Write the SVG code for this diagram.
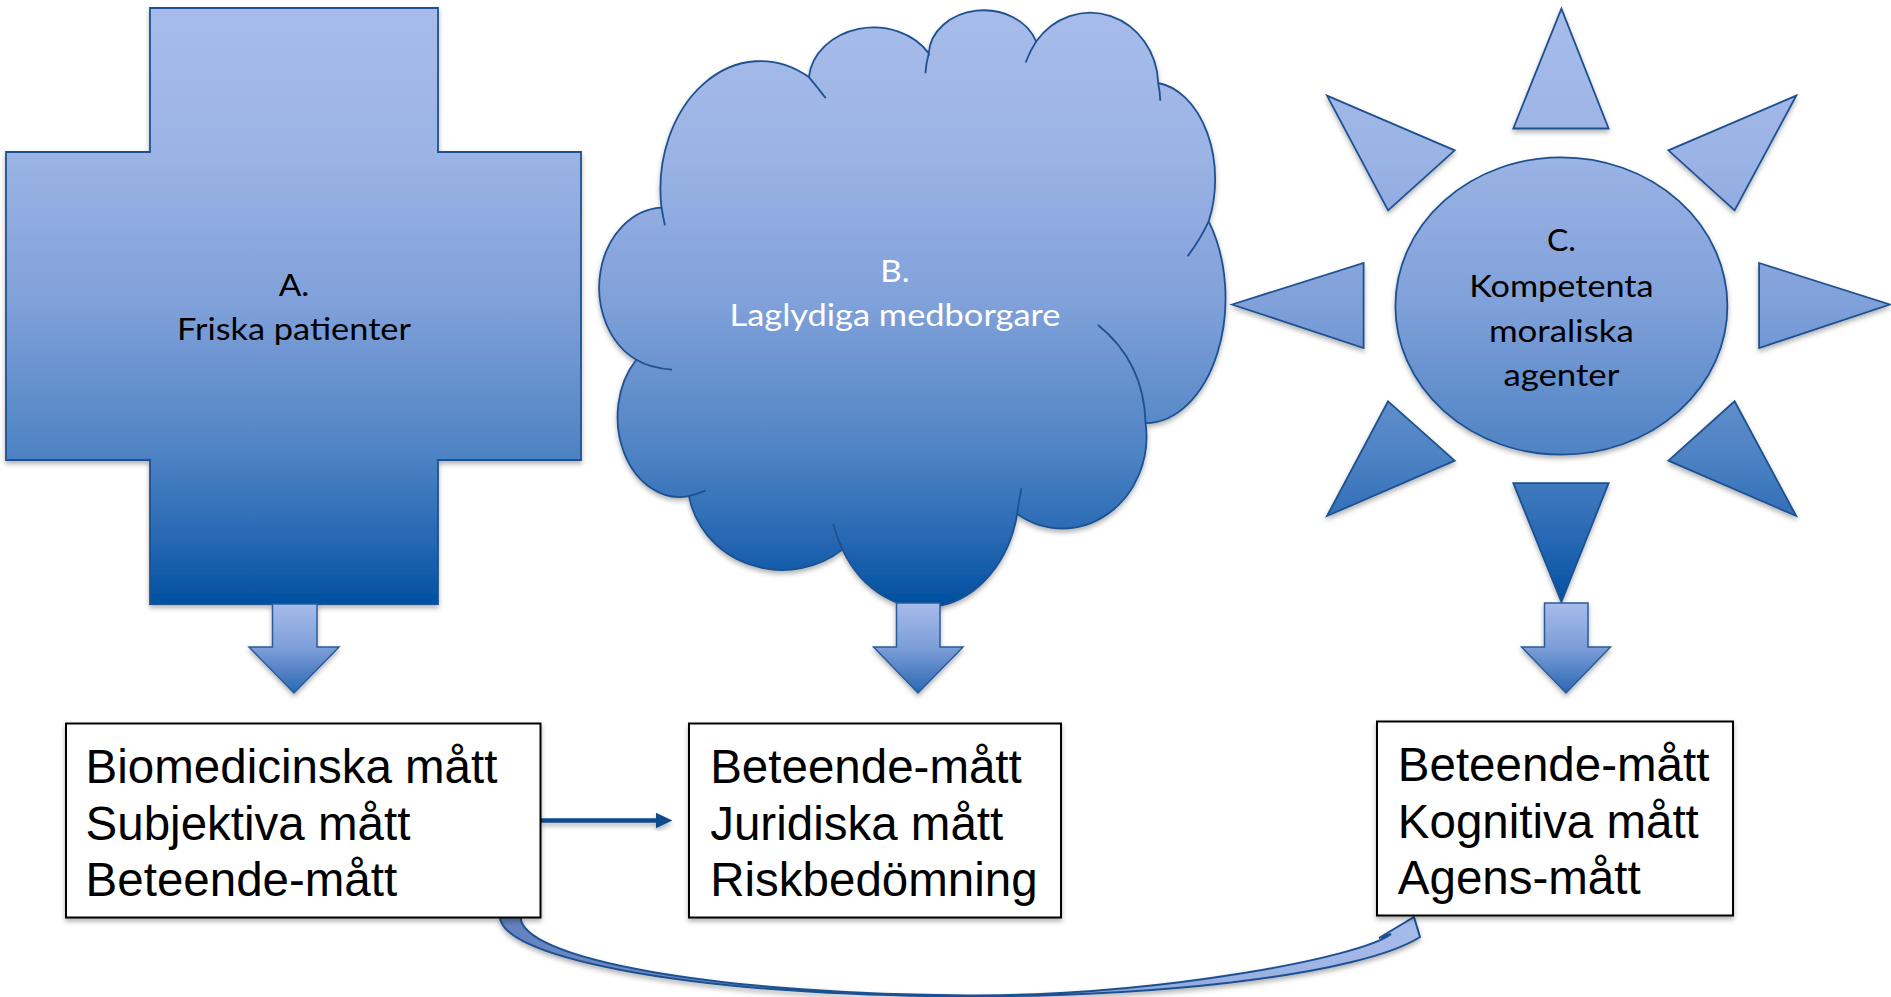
<svg xmlns="http://www.w3.org/2000/svg" width="1891" height="997" viewBox="0 0 1891 997">
<defs>
<linearGradient id="g" gradientUnits="userSpaceOnUse" x1="0" y1="8" x2="0" y2="604">
<stop offset="0" stop-color="#A7BCEA"/>
<stop offset="0.25" stop-color="#9BB3E5"/>
<stop offset="0.5" stop-color="#7FA0D9"/>
<stop offset="0.75" stop-color="#4E83C4"/>
<stop offset="0.9" stop-color="#2466B2"/>
<stop offset="1" stop-color="#0050A0"/>
</linearGradient>
<linearGradient id="ga" x1="0" y1="0" x2="0" y2="1">
<stop offset="0" stop-color="#A7BCEA"/>
<stop offset="0.5" stop-color="#7C9ED8"/>
<stop offset="1" stop-color="#2B67B3"/>
</linearGradient>
<linearGradient id="gc" gradientUnits="userSpaceOnUse" x1="500" y1="0" x2="1420" y2="0">
<stop offset="0" stop-color="#6482BF"/>
<stop offset="1" stop-color="#A6BBEA"/>
</linearGradient>
<filter id="sh" x="-10%" y="-10%" width="120%" height="125%">
<feDropShadow dx="0" dy="3" stdDeviation="2.5" flood-color="#000" flood-opacity="0.3"/>
</filter>
<style>
.shape{fill:url(#g);stroke:#1F5191;stroke-width:1.8;filter:url(#sh)}
.inner{fill:none;stroke:#1F5191;stroke-width:1.8}
.blk{fill:url(#ga);stroke:#2A5C9A;stroke-width:1.5;filter:url(#sh)}
.box{fill:#fff;stroke:#000;stroke-width:2;filter:url(#sh)}
.lbl{font-family:Lato,"Open Sans",sans-serif;font-size:31px;text-anchor:middle}
.bt{font-family:"Liberation Sans",Arial,sans-serif;font-size:47.5px;fill:#000}
</style>
</defs>

<g id="connectors">
<path d="M541,818.3 H656 V812.8 L672.3,820.5 L656,828.2 V822.7 H541 Z" fill="#0F4C8C" filter="url(#sh)"/>
<path d="M500,917 A468,80 0 0 0 1420,937 L1414,917 L1379,938 L1391,934 C1362,957 1160,996 968,995.5 A461,78.5 0 0 1 520.7,917 Z" fill="url(#gc)" stroke="#1F5191" stroke-width="2" filter="url(#sh)"/>
</g>

<g id="nodeA">
<path class="shape" d="M150,8 H438 V152 H581 V460 H438 V604 H150 V460 H6 V152 H150 Z"/>
<text class="lbl" fill="#000"><tspan x="294" y="296" textLength="30.6" lengthAdjust="spacingAndGlyphs">A.</tspan><tspan x="294" y="340" textLength="234" lengthAdjust="spacingAndGlyphs">Friska patienter</tspan></text>
</g>

<g id="nodeB">
<path class="shape" d="M661.5,207.6 A100,128 0 0 1 808.9,77.1 A65,55 0 0 1 928.8,53.4 A55,45 0 0 1 1036.1,41.5 A68,73 0 0 1 1158.2,83 A65,97 0 0 1 1208.7,221.4 A80,125 0 0 1 1145.6,423.1 A84,92 0 0 1 1017.2,514 A95,118 0 0 1 842.5,549.6 A95,90 0 0 1 688.9,496.2 A62,80 0 0 1 636.3,359.8 A65,80 0 0 1 661.5,207.6 Z"/>
<path class="inner" d="M636.3,359.8 Q650,368 672.1,369.7 M661.5,207.6 Q663,216 664.9,225.4 M808.9,77.1 Q818,88 825.7,98.1 M928.8,53.4 Q926,63 925.4,73.2 M1036.1,41.5 Q1030,51 1025.6,62.5 M1158.2,83 Q1160,92 1160.3,100.8 M1208.7,221.4 Q1200,240 1187.6,256.2 M1098,325 Q1144,362 1145.6,423.1 M1021.4,488.3 Q1019,500 1017.2,514 M833.3,523.9 Q837,538 842.5,549.6 M688.9,496.2 Q697,494 705.7,490.3"/>
<text class="lbl" fill="#fff"><tspan x="895" y="282" textLength="29.3" lengthAdjust="spacingAndGlyphs">B.</tspan><tspan x="895" y="326" textLength="331" lengthAdjust="spacingAndGlyphs">Laglydiga medborgare</tspan></text>
</g>

<g id="nodeC">
<path class="shape" d="M1395.4,306 A166,148.7 0 1 1 1727.4,306 A166,148.7 0 1 1 1395.4,306 Z M1561.4,8.7 L1608.6,128.5 L1513.3,128.5 Z M1513.3,483.2 L1608.6,483.2 L1561.4,601.8 Z M1232.1,304.5 L1363.6,263 L1363.6,348 Z M1759.1,263 L1889.8,304.5 L1759.1,348 Z M1327,95.7 L1454.7,150.3 L1388.1,210.4 Z M1796.2,95.7 L1734.6,210.4 L1668.4,150.3 Z M1388.1,401.3 L1454.7,460.7 L1327,516 Z M1734.6,401.3 L1796.2,516 L1668.4,460.7 Z"/>
<text class="lbl" fill="#000"><tspan x="1561.4" y="251" textLength="28.9" lengthAdjust="spacingAndGlyphs">C.</tspan><tspan x="1561.4" y="297" textLength="184.5" lengthAdjust="spacingAndGlyphs">Kompetenta</tspan><tspan x="1561.4" y="341.5" textLength="145" lengthAdjust="spacingAndGlyphs">moraliska</tspan><tspan x="1561.4" y="385.5" textLength="116" lengthAdjust="spacingAndGlyphs">agenter</tspan></text>
</g>

<g id="arrowA">
<path class="blk" d="M272.5,604 H317 V647 H339 L294,693 L249,647 H272.5 Z"/>
</g>
<g id="arrowB">
<path class="blk" d="M896.5,603 H940 V647 H963 L918,693 L873.5,647 H896.5 Z"/>
</g>
<g id="arrowC">
<path class="blk" d="M1544.5,603 H1588 V647 H1610.5 L1566,693 L1521.5,647 H1544.5 Z"/>
</g>

<g id="box1">
<rect class="box" x="66" y="723.5" width="474.5" height="194"/>
<text class="bt"><tspan x="85.6" y="783">Biomedicinska mått</tspan><tspan x="85.6" y="839.5">Subjektiva mått</tspan><tspan x="85.6" y="896">Beteende-mått</tspan></text>
</g>
<g id="box2">
<rect class="box" x="689" y="723.5" width="372" height="194"/>
<text class="bt"><tspan x="710.2" y="783">Beteende-mått</tspan><tspan x="710.2" y="839.5">Juridiska mått</tspan><tspan x="710.2" y="896">Riskbedömning</tspan></text>
</g>
<g id="box3">
<rect class="box" x="1377" y="721.5" width="356" height="194"/>
<text class="bt"><tspan x="1397.8" y="781">Beteende-mått</tspan><tspan x="1397.8" y="837.5">Kognitiva mått</tspan><tspan x="1397.8" y="894">Agens-mått</tspan></text>
</g>
</svg>
